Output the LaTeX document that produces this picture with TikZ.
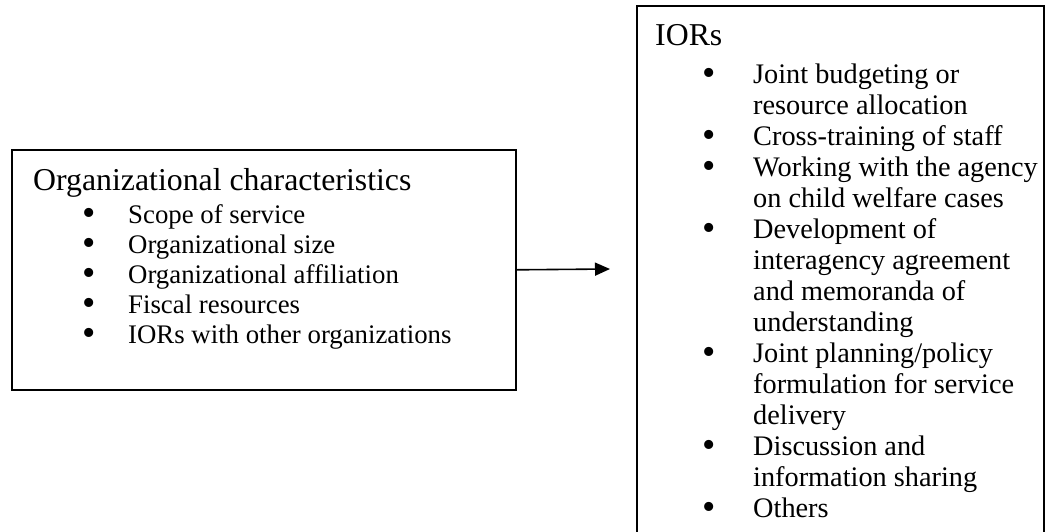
\documentclass[tikz,border=0pt]{standalone}
\usepackage{fontspec}
\setmainfont{Liberation Serif}
\usetikzlibrary{arrows.meta}
\tikzset{
  box/.style={draw, line width=1.6pt, inner sep=0pt, anchor=north west},
  title/.style={anchor=base west, inner sep=0pt, font=\fontsize{31.8}{36}\selectfont},
  item/.style={anchor=base west, inner sep=0pt, font=\fontsize{26.8}{31}\selectfont},
  ritem/.style={anchor=base west, inner sep=0pt, font=\fontsize{28.3}{31}\selectfont},
  bul/.style={anchor=center, inner sep=0pt, font=\fontsize{38}{40}\selectfont},
  conn/.style={line width=1.6pt, -{Triangle[length=15pt,width=13pt]}}
}
\begin{document}
\begin{tikzpicture}[x=1pt,y=-1pt]
\clip (0,0) rectangle (1047,531);
\fill[white] (0,0) rectangle (1047,531);
% left box
\node[box, minimum width=504pt, minimum height=240pt] (L) at (11,149) {};
\node[title] (Lt) at (33,190) {Organizational characteristics};
\foreach \t [count=\i] in {Scope of service, Organizational size, Organizational affiliation, Fiscal resources, IORs with other organizations} {
  \node[bul] (Lb\i) at (89.5,{186.5+30*\i}) {•};
  \node[item] (Li\i) at (128,{193+30*\i}) {\t};
}
% right box
\node[box, minimum width=407pt, minimum height=560pt] (R) at (636,5) {};
\node[title] (Rt) at (655,45) {IORs};
\foreach \t/\b [count=\i] in {
  Joint budgeting or/1, resource allocation/0,
  Cross-training of staff/1,
  Working with the agency/1, on child welfare cases/0,
  Development of/1, interagency agreement/0, and memoranda of/0, understanding/0,
  Joint planning{/}policy/1, formulation for service/0, delivery/0,
  Discussion and/1, information sharing/0,
  Others/1} {
  \node[ritem] (Ri\i) at (753,{52+31*\i}) {\t};
  \ifnum\b=1 \node[bul] (Rb\i) at (709.5,{45.5+31*\i}) {•}; \fi
}
% connector
\coordinate (A) at (610,269);
\draw[conn] (L.east) -- (A);
\end{tikzpicture}
\end{document}
